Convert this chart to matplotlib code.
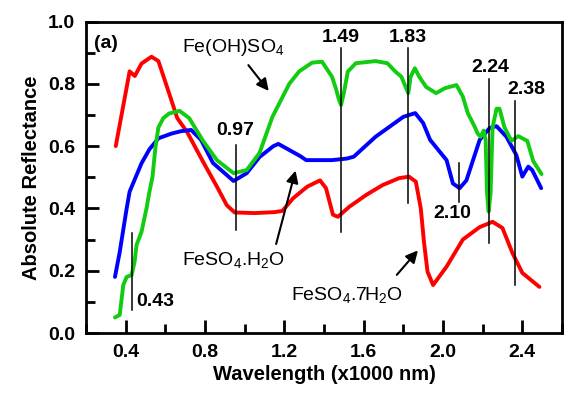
import numpy as np
import matplotlib
matplotlib.use('Agg')
import matplotlib.pyplot as plt
from matplotlib.ticker import MultipleLocator

plt.rcParams['font.family'] = ['Liberation Sans', 'DejaVu Sans']
plt.rcParams['mathtext.default'] = 'regular'

# FeSO4.7H2O (red)
w_hepta = [0.35, 0.42, 0.446, 0.48, 0.53, 0.565, 0.61, 0.66, 0.71, 0.79, 0.86, 0.91,
           0.95, 1.05, 1.15, 1.19, 1.245, 1.316, 1.38, 1.41, 1.445, 1.47, 1.527, 1.612,
           1.696, 1.778, 1.828, 1.863, 1.888, 1.904, 1.922, 1.95, 2.018, 2.10, 2.185,
           2.25, 2.30, 2.35, 2.40, 2.486]
r_hepta = [0.60, 0.84, 0.825, 0.865, 0.887, 0.873, 0.787, 0.69, 0.645, 0.55, 0.47, 0.41,
           0.387, 0.385, 0.388, 0.392, 0.433, 0.47, 0.49, 0.465, 0.38, 0.373, 0.405, 0.443,
           0.475, 0.497, 0.502, 0.486, 0.40, 0.293, 0.197, 0.154, 0.213, 0.30, 0.34,
           0.357, 0.337, 0.257, 0.193, 0.148]

# FeSO4.H2O (blue)
w_mono = [0.346, 0.37, 0.405, 0.42, 0.455, 0.48, 0.52, 0.565, 0.63, 0.68, 0.73, 0.78,
          0.84, 0.944, 1.01, 1.075, 1.145, 1.17, 1.28, 1.31, 1.44, 1.515, 1.55, 1.66,
          1.80, 1.86, 1.90, 1.935, 2.018, 2.05, 2.084, 2.118, 2.185, 2.235, 2.27, 2.32,
          2.37, 2.40, 2.43, 2.45, 2.495]
r_mono = [0.18, 0.26, 0.40, 0.454, 0.507, 0.545, 0.59, 0.625, 0.64, 0.648, 0.652, 0.62,
          0.546, 0.488, 0.513, 0.565, 0.60, 0.607, 0.568, 0.555, 0.555, 0.56, 0.566, 0.63,
          0.694, 0.706, 0.674, 0.62, 0.555, 0.48, 0.465, 0.49, 0.62, 0.658, 0.664, 0.63,
          0.571, 0.502, 0.534, 0.523, 0.465]

# Fe(OH)SO4 (green)
w_ohso4 = [0.346, 0.37, 0.388, 0.405, 0.43, 0.445, 0.455, 0.48, 0.505, 0.52, 0.535, 0.55,
           0.565, 0.59, 0.62, 0.672, 0.72, 0.79, 0.86, 0.944, 1.01, 1.075, 1.14, 1.225,
           1.275, 1.31, 1.34, 1.39, 1.44, 1.46, 1.475, 1.486, 1.50, 1.52, 1.56, 1.66,
           1.72, 1.76, 1.79, 1.805, 1.825, 1.837, 1.858, 1.88, 1.915, 1.965, 2.01,
           2.068, 2.10, 2.125, 2.16, 2.175, 2.19, 2.205, 2.215, 2.222, 2.23, 2.24, 2.25,
           2.27, 2.285, 2.31, 2.345, 2.38, 2.40, 2.425, 2.455, 2.497]
r_ohso4 = [0.05, 0.058, 0.154, 0.18, 0.186, 0.229, 0.283, 0.325, 0.40, 0.454, 0.50, 0.595,
           0.66, 0.69, 0.705, 0.713, 0.69, 0.617, 0.555, 0.513, 0.523, 0.578, 0.694, 0.80,
           0.84, 0.855, 0.868, 0.871, 0.823, 0.785, 0.75, 0.732, 0.77, 0.839, 0.866, 0.873,
           0.866, 0.839, 0.823, 0.80, 0.77, 0.823, 0.85, 0.823, 0.79, 0.77, 0.786,
           0.796, 0.759, 0.706, 0.662, 0.64, 0.63, 0.65, 0.62, 0.45, 0.39, 0.45, 0.66,
           0.72, 0.72, 0.66, 0.617, 0.632, 0.625, 0.617, 0.552, 0.51]

# band markers: label, band position, line bottom, line top
band_labels = ['0.43', '0.97', '1.49', '1.83', '2.10', '2.24', '2.38']
band_pos = [0.431, 0.954, 1.486, 1.825, 2.08, 2.234, 2.362]
band_lo = [0.074, 0.33, 0.325, 0.417, 0.42, 0.288, 0.154]
band_hi = [0.32, 0.603, 0.914, 0.914, 0.545, 0.814, 0.745]

fig = plt.figure(figsize=(5.78, 3.97), dpi=100)
ax = fig.add_axes([0.1488, 0.1612, 0.8235, 0.7846])

ax.plot(w_hepta, r_hepta, color='#ff0000', lw=2.8, solid_capstyle='round')
ax.plot(w_mono, r_mono, color='#0000ff', lw=2.8, solid_capstyle='round')
ax.plot(w_ohso4, r_ohso4, color='#11cc11', lw=2.8, solid_capstyle='round')

for x, y0, y1 in zip(band_pos, band_lo, band_hi):
    ax.plot([x, x], [y0, y1], color='black', lw=1.1)

num = dict(fontsize=14, fontweight='bold')
ax.text(0.455, 0.10, band_labels[0], ha='left', va='center', **num)
ax.text(0.954, 0.622, band_labels[1], ha='center', va='bottom', **num)
ax.text(1.486, 0.922, band_labels[2], ha='center', va='bottom', **num)
ax.text(1.825, 0.922, band_labels[3], ha='center', va='bottom', **num)
ax.text(2.045, 0.385, band_labels[4], ha='center', va='center', **num)
ax.text(2.237, 0.824, band_labels[5], ha='center', va='bottom', **num)
ax.text(2.42, 0.754, band_labels[6], ha='center', va='bottom', **num)

arrow = dict(arrowstyle='-|>', color='black', lw=1.5, mutation_scale=18)
ax.text(0.24, 0.93, '(a)', fontsize=14, fontweight='bold', va='center')
ax.text(0.94, 0.915, 'Fe(OH)SO$_4$', fontsize=14, ha='center', va='center')
ax.annotate('', xy=(1.13, 0.77), xytext=(1.01, 0.867), arrowprops=arrow)
ax.text(0.946, 0.234, 'FeSO$_4$.H$_2$O', fontsize=14, ha='center', va='center')
ax.annotate('', xy=(1.26, 0.53), xytext=(1.155, 0.277), arrowprops=arrow)
ax.text(1.517, 0.122, 'FeSO$_4$.7H$_2$O', fontsize=14, ha='center', va='center')
ax.annotate('', xy=(1.883, 0.272), xytext=(1.758, 0.18), arrowprops=arrow)

ax.set_xlim(0.2, 2.6)
ax.set_ylim(0.0, 1.0)
ax.xaxis.set_major_locator(MultipleLocator(0.4))
ax.xaxis.set_minor_locator(MultipleLocator(0.2))
ax.yaxis.set_major_locator(MultipleLocator(0.2))
ax.yaxis.set_minor_locator(MultipleLocator(0.1))
ax.tick_params(which='both', direction='in', top=False, right=False, width=2)
ax.tick_params(which='major', length=9.5, labelsize=14, pad=8)
ax.tick_params(which='minor', length=6.5)
ax.xaxis.set_major_formatter(plt.FuncFormatter(lambda v, p: f'{v:.1f}'))
ax.yaxis.set_major_formatter(plt.FuncFormatter(lambda v, p: f'{v:.1f}'))
for lbl in ax.get_xticklabels() + ax.get_yticklabels():
    lbl.set_fontweight('bold')
for s in ax.spines.values():
    s.set_linewidth(2)

ax.set_xlabel('Wavelength (x1000 nm)', fontsize=14.5, fontweight='bold', labelpad=3)
ax.set_ylabel('Absolute Reflectance', fontsize=14.5, fontweight='bold', labelpad=5)

plt.savefig('out.png', dpi=100)
